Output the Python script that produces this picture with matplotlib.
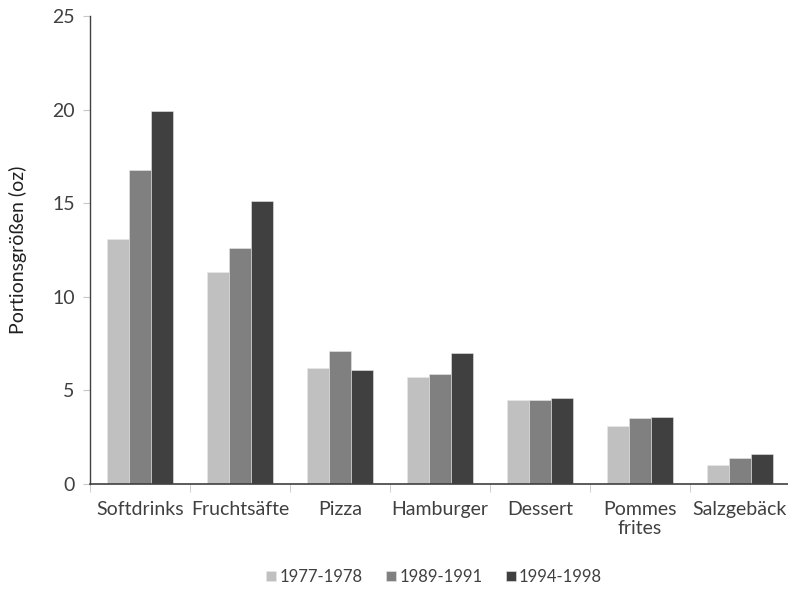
import matplotlib.pyplot as plt
import numpy as np

plt.rcParams['font.family'] = ['Lato', 'DejaVu Sans']

categories = ["Softdrinks", "Fruchtsäfte", "Pizza", "Hamburger", "Dessert", "Pommes\nfrites", "Salzgebäck"]
series_names = ["1977-1978", "1989-1991", "1994-1998"]
v_1977 = [13.1, 11.3, 6.2, 5.7, 4.5, 3.1, 1.0]
v_1989 = [16.8, 12.6, 7.1, 5.9, 4.5, 3.5, 1.4]
v_1994 = [19.9, 15.1, 6.1, 7.0, 4.6, 3.6, 1.6]
colors = ["#c0c0c0", "#808080", "#404040"]

fig = plt.figure(figsize=(7.88, 5.92), dpi=100)
ax = fig.add_axes([90/788, 1-484/592, 700/788, 468/592])

x = np.arange(len(categories))
w = 0.22
for i, (vals, name) in enumerate(zip([v_1977, v_1989, v_1994], series_names)):
    ax.bar(x + (i-1)*w, vals, w, color=colors[i], label=name, edgecolor="#e8e8e8", linewidth=0.4)

ax.set_xlim(-0.5, len(categories)-0.5)
ax.set_ylim(0, 25)
ax.set_yticks([0, 5, 10, 15, 20, 25])
ax.set_xticks(x)
ax.set_xticklabels(categories)
ax.set_xticks(np.arange(len(categories)+1)-0.5, minor=True)
ax.tick_params(axis='x', which='major', length=0, pad=12, labelsize=14, labelcolor="#404040")
ax.tick_params(axis='x', which='minor', length=6, color="#c8c8c8")
ax.tick_params(axis='y', length=5, color="#c8c8c8", labelsize=14, labelcolor="#404040", pad=6)
for s in ['top', 'right']:
    ax.spines[s].set_visible(False)
ax.spines['left'].set_color("#404040")
ax.spines['bottom'].set_color("#404040")
ax.spines['left'].set_linewidth(1.0)
ax.spines['bottom'].set_linewidth(1.2)
ax.set_ylabel("Portionsgrößen (oz)", fontsize=14, color="#202020", labelpad=18)

fig.legend(loc='center', bbox_to_anchor=(434/788, 1-577/592),
           ncol=3, frameon=False, fontsize=12, handlelength=0.6, handleheight=0.6,
           handletextpad=0.2, columnspacing=1.4, labelcolor="#404040")

fig.savefig("out.png", dpi=100)
